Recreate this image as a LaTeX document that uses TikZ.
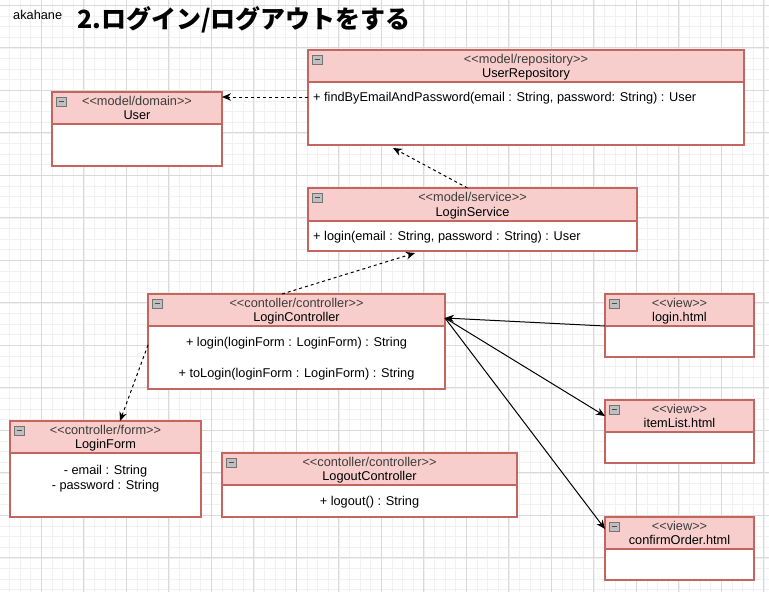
\documentclass[tikz,border=0pt]{standalone}
\usepackage{fontspec}
\setmainfont{Liberation Sans}[Ligatures=TeXOff]
\newfontfamily\jpfont{Noto Sans CJK JP}
\usetikzlibrary{arrows.meta,positioning}
\definecolor{hdrfill}{HTML}{F8CECC}
\definecolor{hdrline}{HTML}{C4665F}
\definecolor{stgray}{HTML}{3C3C3C}
\definecolor{gridminor}{HTML}{F1F1F1}
\definecolor{gridmajor}{HTML}{DADADA}
\newcommand{\st}[1]{{\color{stgray}#1}}

\begin{document}
\begin{tikzpicture}[x=1pt,y=1pt,
  every node/.style={font=\fontsize{12.75}{14.5}\selectfont},
  hdr/.style={draw=hdrline,fill=hdrfill,line width=1.3pt,anchor=north west,
    inner sep=0pt,outer sep=0pt,align=center,minimum height=32pt,
    text height=25pt,text depth=2pt},
  bdy/.style={draw=hdrline,fill=white,line width=1.3pt,anchor=north west,
    inner sep=0pt,outer sep=0pt,minimum height=#1},
  txt/.style={inner sep=0pt,align=center,text height=9pt,text depth=0pt},
  foldbox/.style={draw=black!55,fill=black!25,line width=0.8pt},
  dep/.style={line width=1pt,dash pattern=on 3pt off 3pt,
    -{Stealth[length=9pt,width=7.5pt]}},
  assoc/.style={line width=1pt,-{Stealth[length=9pt,width=7.5pt]}}]
\useasboundingbox (0,0) rectangle (769,-592);
\clip (0,0) rectangle (769,-592);
% grid
\begin{scope}[shift={(-1.2,-5.3)}]
\draw[gridminor,line width=0.6pt,step=10.625pt] (0,10) grid (780,-600);
\draw[gridmajor,line width=0.8pt,step=42.5pt] (0,10) grid (780,-600);
\end{scope}
% title
\node[anchor=west,inner sep=0pt] (author) at (13,-15) {akahane};
\node[anchor=west,inner sep=0pt,font=\jpfont\bfseries\fontsize{25}{30}\selectfont]
  (title) at (77,-20) {2.ログイン/ログアウトをする};
% classes
\node[hdr,minimum width=436pt] (repoH) at (308,-50) {\st{<<model/repository>>}\\UserRepository};
\node[bdy=63pt,minimum width=436pt] (repoB) at (repoH.south west) {};
\node[hdr,minimum width=170pt] (userH) at (52,-92) {\st{<<model/domain>>}\\User};
\node[bdy=42pt,minimum width=170pt] (userB) at (userH.south west) {};
\node[hdr,minimum width=329pt,minimum height=33pt] (svcH) at (308,-188) {\st{<<model/service>>}\\LoginService};
\node[bdy=30pt,minimum width=329pt] (svcB) at (svcH.south west) {};
\node[hdr,minimum width=297pt] (ctrlH) at (148,-294) {\st{<<contoller/controller>>}\\LoginController};
\node[bdy=63pt,minimum width=297pt] (ctrlB) at (ctrlH.south west) {};
\node[hdr,minimum width=149pt] (loginH) at (605,-294) {\st{<<view>>}\\login.html};
\node[bdy=31pt,minimum width=149pt] (loginB) at (loginH.south west) {};
\node[hdr,minimum width=149pt] (itemH) at (605,-400) {\st{<<view>>}\\itemList.html};
\node[bdy=31pt,minimum width=149pt] (itemB) at (itemH.south west) {};
\node[hdr,minimum width=149pt] (confirmH) at (605,-517) {\st{<<view>>}\\confirmOrder.html};
\node[bdy=31pt,minimum width=149pt] (confirmB) at (confirmH.south west) {};
\node[hdr,minimum width=191pt] (formH) at (10,-421) {\st{<<controller/form>>}\\LoginForm};
\node[bdy=64pt,minimum width=191pt] (formB) at (formH.south west) {};
\node[hdr,minimum width=295pt] (logoutH) at (222,-453) {\st{<<contoller/controller>>}\\LogoutController};
\node[bdy=32pt,minimum width=295pt] (logoutB) at (logoutH.south west) {};
% members
\node[txt,anchor=west] (findOp) at ([xshift=5pt,yshift=-15pt]repoB.north west)
  {+ findByEmailAndPassword(email : String, password: String) : User};
\node[txt,anchor=west] (loginOp) at ([xshift=5pt]svcB.west)
  {+ login(email : String, password : String) : User};
\node[txt] (ctrlOp1) at ([yshift=15.5pt]ctrlB.center) {+ login(loginForm : LoginForm) : String};
\node[txt] (ctrlOp2) at ([yshift=-15.5pt]ctrlB.center) {+ toLogin(loginForm : LoginForm) : String};
\node[inner sep=0pt,align=center,anchor=north] (formAttr) at ([yshift=-12.5pt]formB.north)
  {- email : String\\- password : String};
\node[txt] (logoutOp) at (logoutB.center) {+ logout() : String};
% fold icons
\foreach \h in {repoH,userH,svcH,ctrlH,loginH,itemH,confirmH,formH,logoutH}{
  \draw[foldbox] ([shift={(4.5,-5)}]\h.north west) rectangle ++(9.5,-9);
  \draw[line width=1pt,black!70] ([shift={(6.5,-9.5)}]\h.north west) -- ++(5.5,0);
}
% connectors
\draw[dep] ([yshift=-15pt]repoB.north west) -- ([yshift=-15pt]repoB.north west -| userH.east);
\draw[dep] ([xshift=-5pt]svcH.north) -- ([xshift=-133pt,yshift=-3pt]repoB.south);
\draw[dep] ([xshift=-14.5pt]ctrlH.north) -- ([xshift=-57.5pt,yshift=-2pt]svcB.south);
\draw[dep] ([yshift=-19pt]ctrlB.north west) -- ([xshift=14.5pt]formH.north);
\coordinate (hub) at ([yshift=-8pt]ctrlH.east);
\draw[assoc] (loginH.south west) -- (hub);
\draw[assoc] (hub) -- (itemH.west);
\draw[assoc] (hub) -- ([yshift=4pt]confirmH.west);
\end{tikzpicture}
\end{document}
